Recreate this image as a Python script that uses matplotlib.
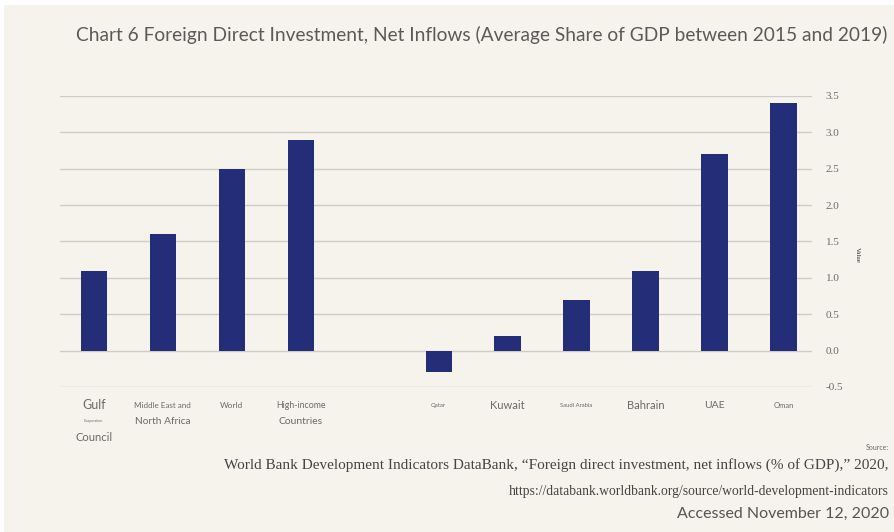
import matplotlib.pyplot as plt
import numpy as np

# FDI net inflows, average % of GDP 2015-2019
categories = ["Gulf Cooperation Council", "Middle East and North Africa", "World",
              "High-income Countries", "", "Qatar", "Kuwait", "Saudi Arabia",
              "Bahrain", "UAE", "Oman"]
values = [1.1, 1.6, 2.5, 2.9, np.nan, -0.3, 0.2, 0.7, 1.1, 2.7, 3.4]

# label lines under each bar (text, font size)
label_lines = [
    [("Gulf", 9), ("Cooperation", 2.5), ("Council", 8)],
    [("Middle East and", 5.8), ("North Africa", 7.3)],
    [("World", 6)],
    [("High-income", 6.3), ("Countries", 7.5)],
    [],
    [("Qatar", 4.3)],
    [("Kuwait", 8)],
    [("Saudi Arabia", 4.2)],
    [("Bahrain", 8)],
    [("UAE", 7.5)],
    [("Oman", 5.5)],
]
yticks = [-0.5, 0.0, 0.5, 1.0, 1.5, 2.0, 2.5, 3.0, 3.5]

bg = "#f6f3ec"
navy = "#232d78"
grey = "#6a6a6a"

fig = plt.figure(figsize=(8.95, 5.32), dpi=100, facecolor="white")
fig.patches.append(plt.Rectangle((0.004, 0), 0.996, 0.99, transform=fig.transFigure,
                                 facecolor=bg, edgecolor="none", zorder=-10))
ax = fig.add_axes([0.067, 0.2726, 0.84, 0.547])
ax.set_facecolor(bg)

x = np.arange(len(categories))
ax.bar(x, values, width=0.38, color=navy, zorder=3)

ax.set_xlim(-0.49, 10.41)
ax.set_ylim(-0.5, 3.5)
ax.set_yticks(yticks)
ax.set_yticklabels([f"{t:.1f}" for t in yticks], family="Liberation Serif",
                   fontsize=8, color=grey)
ax.yaxis.tick_right()
ax.tick_params(axis="y", length=0, pad=10)
ax.set_xticks([])
ax.grid(axis="y", color="#cfccc5", linewidth=1.0, zorder=0)
for s in ax.spines.values():
    s.set_visible(False)

fig.text(0.958, 0.52, "Value", rotation=270, fontsize=5, color="#333333",
         ha="center", va="center", family="Liberation Serif")

# category labels
row_y = [0.238, 0.208, 0.177]
for i, lines in enumerate(label_lines):
    xf = fig.transFigure.inverted().transform(ax.transData.transform((x[i], 0)))[0]
    for j, (txt, fs) in enumerate(lines):
        fig.text(xf, row_y[j], txt, fontsize=fs, color=grey, ha="center",
                 va="center", family="Lato")

fig.text(0.538, 0.934, "Chart 6 Foreign Direct Investment, Net Inflows "
         "(Average Share of GDP between 2015 and 2019)",
         fontsize=13.8, color="#5a5a5a", ha="center", va="center", family="Lato")

fig.text(0.993, 0.158, "Source:", fontsize=5, color=grey, ha="right", va="center",
         family="Lato")
fig.text(0.993, 0.126, "World Bank Development Indicators DataBank, \u201cForeign direct "
         "investment, net inflows (% of GDP),\u201d 2020,",
         fontsize=11, color="#444444", ha="right", va="center", family="Liberation Serif")
fig.text(0.993, 0.077, "https://databank.worldbank.org/source/world-development-indicators",
         fontsize=9.8, color="#444444", ha="right", va="center", family="Liberation Serif")
fig.text(0.993, 0.034, "Accessed November 12, 2020", fontsize=11.5, color="#555555",
         ha="right", va="center", family="Lato")

fig.savefig("out.png", dpi=100, facecolor=fig.get_facecolor())
